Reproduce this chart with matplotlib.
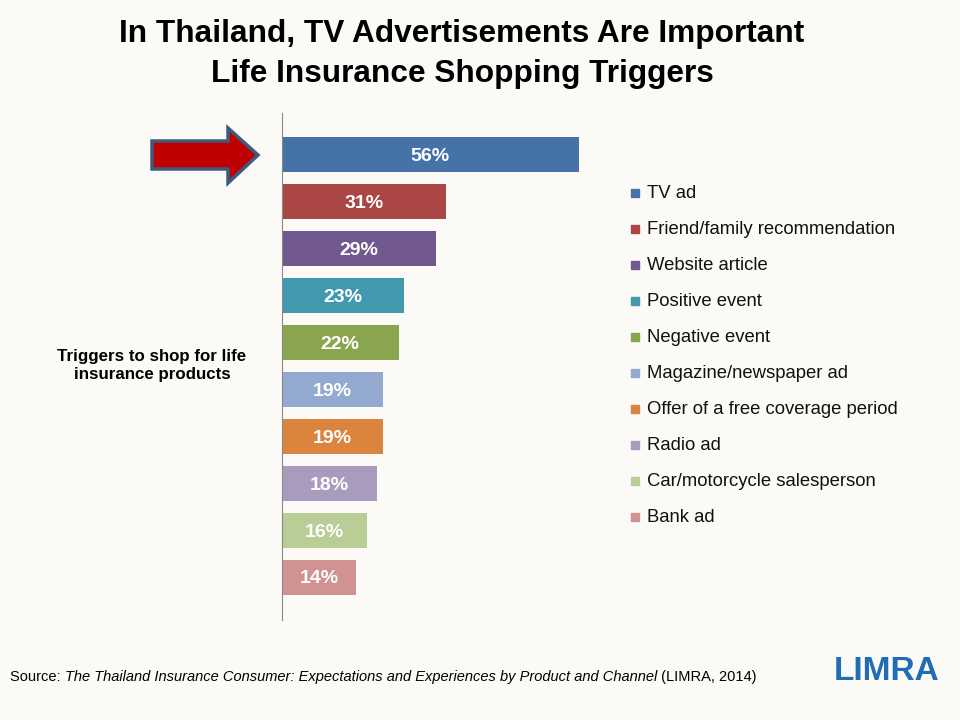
import numpy as np
import matplotlib
matplotlib.use("Agg")
import matplotlib.pyplot as plt
from matplotlib import patches

# Data
categories = ["TV ad", "Friend/family recommendation", "Website article",
              "Positive event", "Negative event", "Magazine/newspaper ad",
              "Offer of a free coverage period", "Radio ad",
              "Car/motorcycle salesperson", "Bank ad"]
values = [56, 31, 29, 23, 22, 19, 19, 18, 16, 14]
colors = ["#4572A7", "#AA4643", "#71588F", "#4198AF", "#89A54E",
          "#93A9CF", "#DB843D", "#A99BBD", "#B9CD96", "#D19392"]

BG = "#FBFAF7"
plt.rcParams['font.family'] = ['Liberation Sans', 'DejaVu Sans']

W, H = 960, 720
fig = plt.figure(figsize=(9.6, 7.2), dpi=100, facecolor=BG)

# axes placed in pixel terms
left, right, top, bottom = 282, 600, 113, 620
ax = fig.add_axes([left / W, 1 - bottom / H, (right - left) / W, (bottom - top) / H])
ax.set_facecolor(BG)
ypos = np.arange(len(values))
ax.barh(ypos, values, height=0.745, color=colors)
ax.set_xlim(0, (right - left) / 5.3)
ax.set_ylim(9.915, -0.894)
for y, v in zip(ypos, values):
    ax.text(v / 2, y + 0.04, "%d%%" % v, ha="center", va="center", color="white",
            fontsize=14, fontweight="bold")
for s in ["top", "right", "bottom"]:
    ax.spines[s].set_visible(False)
ax.spines["left"].set_color("#888888")
ax.set_xticks([])
ax.set_yticks([])

# legend drawn by hand
for i, (c, lab) in enumerate(zip(colors, categories)):
    yy = 193 + i * 36
    fig.patches.append(patches.Rectangle(((635 - 4) / W, 1 - (yy + 4) / H), 8 / W, 8 / H,
                                         transform=fig.transFigure, color=c))
    fig.text(647 / W, 1 - yy / H, lab, fontsize=13.3, va="center", ha="left", color="#111111")

# title
fig.text(462 / W, 1 - 54 / H, "In Thailand, TV Advertisements Are Important\nLife Insurance Shopping Triggers",
         ha="center", va="center", fontsize=22.8, fontweight="bold", linespacing=1.42)

# axis label
fig.text(152 / W, 1 - 366 / H, "Triggers to shop for life\ninsurance products", ha="center",
         va="center", fontsize=12.2, fontweight="bold", linespacing=1.25)

# arrow
arrow_pts = [(152, 141), (228, 141), (228, 128), (258, 155), (228, 183), (228, 169), (152, 169)]
fig.patches.append(patches.Polygon([(x / W, 1 - y / H) for x, y in arrow_pts], closed=True,
                                   transform=fig.transFigure, facecolor="#C00000",
                                   edgecolor="#3E5A7E", linewidth=2.5))

# source line with mixed styles
fig.canvas.draw()
renderer = fig.canvas.get_renderer()
x = 10 / W
parts = [("Source: ", "normal"),
         ("The Thailand Insurance Consumer: Expectations and Experiences by Product and Channel", "italic"),
         (" (LIMRA, 2014)", "normal")]
for txt, style in parts:
    t = fig.text(x, 1 - 677 / H, txt, fontsize=10.5, style=style, va="center", ha="left")
    bb = t.get_window_extent(renderer)
    x = bb.x1 / W

# logo
fig.text(887 / W, 1 - 671 / H, "LIMRA", ha="center", va="center", fontsize=24,
         fontweight="bold", color="#1F6DB5")

fig.savefig("out.png", dpi=100, facecolor=BG)
